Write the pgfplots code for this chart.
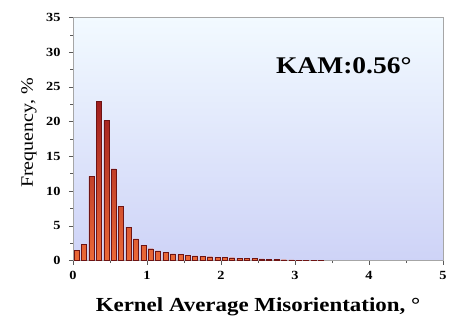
\documentclass[border=0pt]{standalone}
\usepackage{fontspec}
\setmainfont{Liberation Serif}[FakeStretch=1.15]
\usepackage{pgfplots}
\pgfplotsset{compat=1.18}
\definecolor{bgtop}{RGB}{242,250,255}
\definecolor{bgbot}{RGB}{206,211,247}
\definecolor{bartop}{RGB}{160,30,30}
\definecolor{barbot}{RGB}{235,105,55}
\definecolor{baredge}{RGB}{110,20,20}
\begin{document}
\begin{tikzpicture}
\path[use as bounding box] (0,0) rectangle (455bp,320bp);
\begin{axis}[
  at={(73bp,59.5bp)}, anchor=south west,
  scale only axis, width=370bp, height=243bp,
  xmin=0, xmax=5, ymin=0, ymax=35,
  xtick={0,1,2,3,4,5}, ytick={0,5,...,35},
  minor x tick num=1, minor y tick num=1,
  tick align=outside, tick pos=left,
  major tick length=4bp, minor tick length=2.5bp,
  axis line style={draw=gray!70, line width=0.6pt},
  every tick/.style={gray!70!black, line width=0.5pt},
  axis background/.style={shade, top color=bgtop, bottom color=bgbot},
  /pgf/number format/assume math mode=true,
  ticklabel style={font=\fontsize{12.5}{14}\selectfont\bfseries},
  yticklabel style={xshift=-5bp},
  xticklabel style={yshift=-3bp},
  clip=false,
]
\addplot[ybar, bar width=0.068, bar shift=0pt, draw=baredge, line width=0.3pt,
  top color=bartop, bottom color=barbot] coordinates {
(0.05,1.5) (0.15,2.3) (0.25,12.1) (0.35,22.9) (0.45,20.2) (0.55,13.2)
(0.65,7.8) (0.75,4.8) (0.85,3.1) (0.95,2.2) (1.05,1.7) (1.15,1.4)
(1.25,1.15) (1.35,0.95) (1.45,0.85) (1.55,0.75) (1.65,0.65) (1.75,0.6)
(1.85,0.55) (1.95,0.5) (2.05,0.45) (2.15,0.4) (2.25,0.36) (2.35,0.32)
(2.45,0.28) (2.55,0.24) (2.65,0.2) (2.75,0.16) (2.85,0.12) (2.95,0.09)
(3.05,0.07) (3.15,0.05) (3.25,0.04) (3.35,0.03)
};
\node[anchor=base, font=\fontsize{24}{28}\selectfont\bfseries] at (axis cs:3.66,27.0) {KAM:0.56°};
\node[anchor=base, font=\fontsize{20}{24}\selectfont\bfseries] at (rel axis cs:0.5,-0.2107) {Kernel Average Misorientation, °};
\node[rotate=90, anchor=center, font=\fontsize{17.5}{21}\selectfont] at (rel axis cs:-0.119,0.525) {Frequency, \%};
\end{axis}
\end{tikzpicture}
\end{document}
